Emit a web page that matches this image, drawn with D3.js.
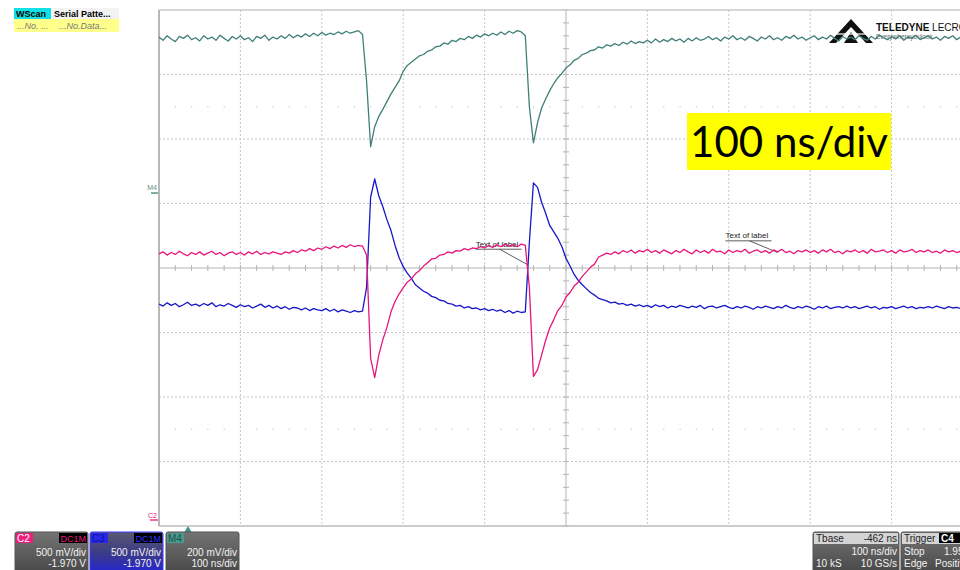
<!DOCTYPE html>
<html>
<head>
<meta charset="utf-8">
<script src="https://cdn.jsdelivr.net/npm/d3@7"></script>
<style>
  body { margin: 0; background: #fff; }
  svg { display: block; font-family: "Liberation Sans", Arial, sans-serif; }
</style>
</head>
<body>
<script>

// samples are 5 ns apart, values in screen divisions (0 = centre line)
const sampleStep = 5;

const m4Values = [
    3.58, 3.53, 3.60, 3.55, 3.51, 3.59, 3.56, 3.61, 3.54, 3.57,
    3.52, 3.60, 3.55, 3.58, 3.53, 3.61, 3.56, 3.52, 3.59, 3.55,
    3.60, 3.54, 3.57, 3.51, 3.59, 3.56, 3.61, 3.53, 3.58, 3.55,
    3.60, 3.56, 3.62, 3.57, 3.61, 3.58, 3.63, 3.59, 3.64, 3.60,
    3.65, 3.61, 3.64, 3.62, 3.66, 3.63, 3.67, 3.64, 3.66, 3.68,
    3.62, 2.90, 1.88, 2.19, 2.35, 2.46, 2.58, 2.70, 2.80, 2.90,
    3.05, 3.14, 3.19, 3.24, 3.29, 3.31, 3.36, 3.38, 3.43, 3.44,
    3.49, 3.47, 3.53, 3.51, 3.56, 3.54, 3.59, 3.56, 3.61, 3.58,
    3.63, 3.60, 3.64, 3.61, 3.66, 3.62, 3.67, 3.64, 3.68, 3.66,
    3.60, 2.50, 1.94, 2.25, 2.48, 2.62, 2.75, 2.86, 2.95, 3.02,
    3.10, 3.15, 3.22, 3.25, 3.31, 3.33, 3.37, 3.38, 3.43, 3.41,
    3.46, 3.44, 3.48, 3.45, 3.50, 3.47, 3.52, 3.48, 3.51, 3.49,
    3.53, 3.49, 3.55, 3.50, 3.54, 3.51, 3.56, 3.52, 3.55, 3.50,
    3.56, 3.52, 3.57, 3.53, 3.55, 3.59, 3.54, 3.57, 3.52, 3.58,
    3.55, 3.60, 3.54, 3.57, 3.53, 3.59, 3.56, 3.52, 3.58, 3.55,
    3.60, 3.54, 3.57, 3.53, 3.59, 3.56, 3.61, 3.55, 3.58, 3.53,
    3.57, 3.60, 3.54, 3.58, 3.55, 3.61, 3.56, 3.52, 3.59, 3.55,
    3.58, 3.54, 3.60, 3.56, 3.53, 3.59, 3.55, 3.61, 3.57, 3.54,
    3.59, 3.55, 3.60, 3.53, 3.58, 3.56, 3.61, 3.54, 3.57, 3.60,
    3.55, 3.58, 3.53, 3.59, 3.56, 3.60, 3.54, 3.58
];

const c2Values = [
    0.22, 0.25, 0.20, 0.24, 0.21, 0.26, 0.22, 0.19, 0.24, 0.21,
    0.25, 0.20, 0.23, 0.26, 0.21, 0.24, 0.19, 0.23, 0.25, 0.21,
    0.24, 0.20, 0.25, 0.22, 0.26, 0.21, 0.24, 0.22, 0.25, 0.23,
    0.21, 0.25, 0.23, 0.27, 0.24, 0.28, 0.26, 0.30, 0.27, 0.31,
    0.29, 0.33, 0.30, 0.34, 0.31, 0.35, 0.32, 0.36, 0.33, 0.35,
    0.34, 0.20, -1.40, -1.70, -1.35, -1.11, -0.92, -0.68, -0.52, -0.40,
    -0.31, -0.22, -0.17, -0.09, -0.04, 0.03, 0.08, 0.14, 0.15, 0.20,
    0.21, 0.25, 0.23, 0.27, 0.26, 0.30, 0.28, 0.31, 0.30, 0.33,
    0.31, 0.35, 0.32, 0.36, 0.33, 0.37, 0.34, 0.36, 0.33, 0.37,
    0.35, -0.30, -1.68, -1.58, -1.35, -1.12, -0.93, -0.80, -0.66, -0.58,
    -0.45, -0.38, -0.28, -0.22, -0.13, -0.06, 0.01, 0.06, 0.17, 0.20,
    0.23, 0.21, 0.25, 0.22, 0.27, 0.24, 0.28, 0.23, 0.27, 0.25,
    0.29, 0.24, 0.27, 0.23, 0.28, 0.25, 0.22, 0.27, 0.24, 0.29,
    0.25, 0.22, 0.28, 0.24, 0.27, 0.23, 0.29, 0.25, 0.26, 0.22,
    0.28, 0.24, 0.27, 0.25, 0.29, 0.23, 0.26, 0.28, 0.24, 0.27,
    0.23, 0.28, 0.25, 0.29, 0.24, 0.26, 0.22, 0.27, 0.25, 0.28,
    0.24, 0.27, 0.23, 0.28, 0.25, 0.29, 0.24, 0.26, 0.22, 0.27,
    0.25, 0.28, 0.24, 0.27, 0.23, 0.29, 0.25, 0.26, 0.28, 0.24,
    0.27, 0.23, 0.28, 0.25, 0.26, 0.29, 0.24, 0.27, 0.25, 0.28,
    0.24, 0.26, 0.23, 0.28, 0.25, 0.27, 0.24, 0.26
];

const c3Values = [
    -0.56, -0.59, -0.54, -0.58, -0.55, -0.60, -0.57, -0.53, -0.58, -0.56,
    -0.59, -0.55, -0.58, -0.54, -0.60, -0.57, -0.59, -0.55, -0.58, -0.61,
    -0.57, -0.60, -0.58, -0.62, -0.59, -0.56, -0.61, -0.58, -0.62, -0.59,
    -0.63, -0.60, -0.64, -0.61, -0.62, -0.65, -0.62, -0.66, -0.63, -0.65,
    -0.66, -0.63, -0.67, -0.64, -0.68, -0.65, -0.67, -0.69, -0.66, -0.68,
    -0.67, -0.30, 1.10, 1.38, 1.12, 0.95, 0.75, 0.58, 0.35, 0.16,
    0.02, -0.08, -0.16, -0.26, -0.31, -0.36, -0.39, -0.44, -0.46, -0.50,
    -0.51, -0.55, -0.56, -0.59, -0.58, -0.62, -0.60, -0.63, -0.62, -0.65,
    -0.63, -0.66, -0.64, -0.67, -0.65, -0.69, -0.66, -0.70, -0.67, -0.69,
    -0.68, 0.40, 1.32, 1.25, 1.02, 0.85, 0.66, 0.56, 0.46, 0.33,
    0.15, 0.03, -0.10, -0.19, -0.26, -0.32, -0.38, -0.42, -0.47, -0.49,
    -0.51, -0.54, -0.53, -0.56, -0.55, -0.58, -0.56, -0.59, -0.57, -0.60,
    -0.58, -0.61, -0.57, -0.60, -0.58, -0.62, -0.59, -0.61, -0.58, -0.60,
    -0.62, -0.59, -0.61, -0.58, -0.63, -0.60, -0.59, -0.62, -0.60, -0.58,
    -0.61, -0.63, -0.60, -0.62, -0.59, -0.61, -0.64, -0.60, -0.62, -0.59,
    -0.61, -0.63, -0.60, -0.62, -0.58, -0.61, -0.63, -0.60, -0.62, -0.59,
    -0.61, -0.64, -0.60, -0.62, -0.59, -0.63, -0.61, -0.60, -0.62, -0.59,
    -0.62, -0.60, -0.63, -0.61, -0.59, -0.62, -0.60, -0.64, -0.61, -0.62,
    -0.60, -0.63, -0.61, -0.59, -0.62, -0.60, -0.63, -0.61, -0.62, -0.60,
    -0.62, -0.59, -0.61, -0.63, -0.60, -0.62, -0.61, -0.63
];

// "Text of label" notes: text anchor and leader end, in ns / divisions
const labelNotes = [
    {text: 'Text of label', t: 389, v: 0.33, endT: 453, endV: 0.05},
    {text: 'Text of label', t: 696, v: 0.46, endT: 760, endV: 0.24}
];

const channels = [
    {name: 'C2', coupling: 'DC1M', scale: '500 mV/div', offset: '-1.970 V'},
    {name: 'C3', coupling: 'DC1M', scale: '500 mV/div', offset: '-1.970 V'},
    {name: 'M4', coupling: '', scale: '200 mV/div', offset: '100 ns/div'}
];

const tbaseRows = [['Tbase', '-462 ns'], ['', '100 ns/div'], ['10 kS', '10 GS/s']];
const triggerRows = [['Trigger', 'C4'], ['Stop', '1.950 V'], ['Edge', 'Positive']];

const colors = {M4: '#3f7f77', C2: '#e8167c', C3: '#1717c8'};

// ---------------------------------------------------------------

const svg = d3.select('body').append('svg')
    .attr('width', 960)
    .attr('height', 570);

const divW = 81.4, divH = 64.5, plotLeft = 159, plotTop = 10;

const x = d3.scaleLinear().domain([0, 1000]).range([plotLeft, plotLeft + 10 * divW]);
const y = d3.scaleLinear().domain([-4, 4]).range([plotTop + 8 * divH, plotTop]);

const defs = svg.append('defs');
defs.append('clipPath').attr('id', 'plotclip')
    .append('rect')
    .attr('x', x(0)).attr('y', y(4))
    .attr('width', x(1000) - x(0)).attr('height', y(-4) - y(4));

const grayGrad = defs.append('linearGradient').attr('id', 'grayGrad')
    .attr('x1', 0).attr('y1', 0).attr('x2', 0).attr('y2', 1);
grayGrad.append('stop').attr('offset', 0).attr('stop-color', '#747474');
grayGrad.append('stop').attr('offset', 1).attr('stop-color', '#444');

const blueGrad = defs.append('linearGradient').attr('id', 'blueGrad')
    .attr('x1', 0).attr('y1', 0).attr('x2', 0).attr('y2', 1);
blueGrad.append('stop').attr('offset', 0).attr('stop-color', '#5a5a6e');
blueGrad.append('stop').attr('offset', 0.5).attr('stop-color', '#3a3a8a');
blueGrad.append('stop').attr('offset', 1).attr('stop-color', '#2222e0');

// grid
const grid = svg.append('g');

grid.selectAll('line.vgrid')
    .data(d3.range(1, 10).filter(d => d !== 5))
    .enter().append('line')
    .attr('x1', d => x(d * 100)).attr('x2', d => x(d * 100))
    .attr('y1', y(4)).attr('y2', y(-4))
    .attr('stroke', '#c6c6c6').attr('stroke-dasharray', '2,2');

grid.selectAll('line.hgrid')
    .data(d3.range(-3, 4).filter(d => d !== 0))
    .enter().append('line')
    .attr('x1', x(0)).attr('x2', x(1000))
    .attr('y1', d => y(d)).attr('y2', d => y(d))
    .attr('stroke', '#c6c6c6').attr('stroke-dasharray', '2,2');

// faint dot rows at +/-2.5 div
const dotTimes = d3.range(0, 10).flatMap(d => [20, 40, 60, 80].map(o => d * 100 + o));
[2.5, -2.5].forEach(v => {
    grid.selectAll(null)
        .data(dotTimes)
        .enter().append('rect')
        .attr('x', d => x(d) - 0.5).attr('y', y(v) - 0.5)
        .attr('width', 1.2).attr('height', 1.2)
        .attr('fill', '#c8c8c8');
});

// centre axes with minor ticks
grid.append('line')
    .attr('x1', x(0)).attr('x2', x(1000)).attr('y1', y(0)).attr('y2', y(0))
    .attr('stroke', '#b4b4b4');
grid.append('line')
    .attr('x1', x(500)).attr('x2', x(500)).attr('y1', y(4)).attr('y2', y(-4))
    .attr('stroke', '#b4b4b4');
grid.selectAll('line.xt')
    .data(d3.range(0, 1001, 20))
    .enter().append('line')
    .attr('x1', d => x(d)).attr('x2', d => x(d))
    .attr('y1', y(0) - 3).attr('y2', y(0) + 3)
    .attr('stroke', '#b4b4b4');
grid.selectAll('line.yt')
    .data(d3.range(-40, 41, 2).map(d => d / 10))
    .enter().append('line')
    .attr('x1', x(500) - 3).attr('x2', x(500) + 3)
    .attr('y1', d => y(d)).attr('y2', d => y(d))
    .attr('stroke', '#b4b4b4');

// border
grid.append('line').attr('x1', x(0)).attr('x2', x(1000)).attr('y1', y(4)).attr('y2', y(4))
    .attr('stroke', '#c8c8c8').attr('stroke-width', 1.5);
grid.append('line').attr('x1', x(0)).attr('x2', x(1000)).attr('y1', y(-4)).attr('y2', y(-4))
    .attr('stroke', '#bdbdbd').attr('stroke-width', 1.5);
grid.append('line').attr('x1', x(0)).attr('x2', x(0)).attr('y1', y(4)).attr('y2', y(-4))
    .attr('stroke', '#b8b8b8').attr('stroke-width', 2);

// labels (drawn under the traces)
const notes = svg.append('g');
labelNotes.forEach(n => {
    notes.append('text')
        .attr('x', x(n.t)).attr('y', y(n.v))
        .attr('font-size', 8).attr('fill', '#222')
        .text(n.text);
    notes.append('line')
        .attr('x1', x(n.t)).attr('x2', x(n.t) + 46)
        .attr('y1', y(n.v) + 2.5).attr('y2', y(n.v) + 2.5)
        .attr('stroke', '#333').attr('stroke-width', 0.8);
    notes.append('line')
        .attr('x1', x(n.t) + 24).attr('y1', y(n.v) + 2.5)
        .attr('x2', x(n.endT)).attr('y2', y(n.endV))
        .attr('stroke', '#333').attr('stroke-width', 0.8);
});

// logo top right (under the M4 trace)
const logo = svg.append('g');
logo.append('path')
    .attr('d', 'M829,43 L851,19 L873,43 L866,43 L851,27 L836,43 Z M844,43 L851,32 L858,43 Z')
    .attr('fill', '#111');
logo.append('line').attr('x1', 835).attr('x2', 867).attr('y1', 34).attr('y2', 34)
    .attr('stroke', '#fff').attr('stroke-width', 1.2);
logo.append('text').attr('x', 876).attr('y', 31).attr('font-size', 10).attr('fill', '#111')
    .html('<tspan font-weight="bold">TELEDYNE</tspan> LECROY');
logo.append('text').attr('x', 876).attr('y', 39).attr('font-size', 6.5).attr('fill', '#666')
    .text('Everywhereyoulook');

// traces
const line = d3.line()
    .x((d, i) => x(i * sampleStep))
    .y(d => y(d));

const traces = svg.append('g').attr('clip-path', 'url(#plotclip)');
[['M4', m4Values], ['C3', c3Values], ['C2', c2Values]].forEach(([name, vals]) => {
    traces.append('path')
        .datum(vals)
        .attr('d', line)
        .attr('fill', 'none')
        .attr('stroke', colors[name])
        .attr('stroke-width', 1.3)
        .attr('stroke-linejoin', 'round');
});

// channel ground markers on the left edge
svg.append('text').attr('x', 157).attr('y', 190).attr('text-anchor', 'end')
    .attr('font-size', 7).attr('fill', '#5d8f89').text('M4');
svg.append('line').attr('x1', 151).attr('x2', 158).attr('y1', 193).attr('y2', 193)
    .attr('stroke', colors.M4).attr('stroke-width', 1.3);
svg.append('text').attr('x', 157).attr('y', 518).attr('text-anchor', 'end')
    .attr('font-size', 7).attr('fill', colors.C2).text('C2');
svg.append('line').attr('x1', 150).attr('x2', 158).attr('y1', 520).attr('y2', 520)
    .attr('stroke', colors.C2).attr('stroke-width', 1.3);

// trigger position triangle
svg.append('path')
    .attr('d', 'M188,526 L191.5,532 L184.5,532 Z')
    .attr('fill', '#3f8f86');

// top-left WScan legend
const legend = svg.append('g').attr('font-size', 9);
legend.append('rect').attr('x', 14).attr('y', 8).attr('width', 37).attr('height', 11).attr('fill', '#12e0e4');
legend.append('text').attr('x', 16).attr('y', 17).attr('font-weight', 'bold').text('WScan');
legend.append('rect').attr('x', 51).attr('y', 8).attr('width', 68).attr('height', 11).attr('fill', '#f3f3f3');
legend.append('text').attr('x', 54).attr('y', 17).attr('font-weight', 'bold').text('Serial Patte...');
legend.append('rect').attr('x', 14).attr('y', 19).attr('width', 105).attr('height', 13).attr('fill', '#ffff8c');
legend.append('text').attr('x', 17).attr('y', 29).attr('font-style', 'italic').attr('fill', '#777').text('...No. ...');
legend.append('text').attr('x', 59).attr('y', 29).attr('font-style', 'italic').attr('fill', '#777').text('...No.Data...');

// big timebase note
svg.append('rect').attr('x', 687).attr('y', 113).attr('width', 204).attr('height', 57).attr('fill', '#ffff00');
svg.append('text').attr('x', 690).attr('y', 157)
    .attr('font-family', 'Lato, "Open Sans", sans-serif')
    .attr('font-size', 43)
    .attr('textLength', 198).attr('lengthAdjust', 'spacingAndGlyphs')
    .attr('fill', '#000')
    .text('100 ns/div');

// channel boxes bottom left
const boxX = [15, 90, 166];
const boxG = svg.append('g').attr('font-size', 10);
channels.forEach((c, i) => {
    const bx = boxX[i];
    const g = boxG.append('g');
    g.append('rect')
        .attr('x', bx).attr('y', 532).attr('width', 73).attr('height', 44).attr('rx', 2)
        .attr('fill', c.name === 'C3' ? 'url(#blueGrad)' : 'url(#grayGrad)')
        .attr('stroke', c.name === 'C3' ? '#3a3aff' : '#555');
    g.append('rect').attr('x', bx + 1).attr('y', 533).attr('width', 17).attr('height', 10)
        .attr('fill', c.name === 'C2' ? '#ec1f7e' : c.name === 'C3' ? '#2828e8' : '#4a9a8f');
    g.append('text').attr('x', bx + 2).attr('y', 542)
        .attr('fill', c.name === 'C2' ? '#fff' : c.name === 'C3' ? '#1010a0' : '#1d4f48')
        .text(c.name);
    if (c.coupling) {
        g.append('rect').attr('x', bx + 44).attr('y', 533).attr('width', 28).attr('height', 10).attr('fill', '#000');
        g.append('text').attr('x', bx + 71).attr('y', 542).attr('text-anchor', 'end')
            .attr('font-size', 9).attr('fill', c.name === 'C3' ? '#3030ff' : '#e8167c')
            .text(c.coupling);
    }
    g.append('text').attr('x', bx + 71).attr('y', 556).attr('text-anchor', 'end')
        .attr('fill', '#f2f2f2').text(c.scale);
    g.append('text').attr('x', bx + 71).attr('y', 567).attr('text-anchor', 'end')
        .attr('fill', '#f2f2f2').text(c.offset);
});

// timebase box bottom right
const tb = svg.append('g').attr('font-size', 10);
tb.append('rect').attr('x', 813).attr('y', 532).attr('width', 86).attr('height', 44).attr('rx', 2)
    .attr('fill', 'url(#grayGrad)').attr('stroke', '#555');
tb.append('rect').attr('x', 814).attr('y', 533).attr('width', 84).attr('height', 11).attr('fill', '#d4d4d4');
tbaseRows.forEach((r, i) => {
    const ty = 542 + i * 12.5;
    tb.append('text').attr('x', 816).attr('y', ty)
        .attr('fill', i === 0 ? '#222' : '#f2f2f2').text(r[0]);
    tb.append('text').attr('x', 897).attr('y', ty).attr('text-anchor', 'end')
        .attr('fill', i === 0 ? '#222' : '#f2f2f2').text(r[1]);
});

// trigger box (runs off the right edge)
const trig = svg.append('g').attr('font-size', 10);
trig.append('rect').attr('x', 901).attr('y', 532).attr('width', 90).attr('height', 44).attr('rx', 2)
    .attr('fill', 'url(#grayGrad)').attr('stroke', '#555');
trig.append('rect').attr('x', 902).attr('y', 533).attr('width', 88).attr('height', 11).attr('fill', '#d4d4d4');
trig.append('text').attr('x', 904).attr('y', 542).attr('fill', '#222').text(triggerRows[0][0]);
trig.append('rect').attr('x', 939).attr('y', 533).attr('width', 21).attr('height', 10).attr('fill', '#000');
trig.append('text').attr('x', 941).attr('y', 542).attr('fill', '#fff').attr('font-weight', 'bold').text(triggerRows[0][1]);
triggerRows.slice(1).forEach((r, i) => {
    const ty = 554.5 + i * 12.5;
    trig.append('text').attr('x', 904).attr('y', ty).attr('fill', '#f2f2f2').text(r[0]);
    trig.append('text').attr('x', i === 0 ? 944 : 935).attr('y', ty).attr('fill', '#f2f2f2').text(r[1]);
});

</script>
</body>
</html>
